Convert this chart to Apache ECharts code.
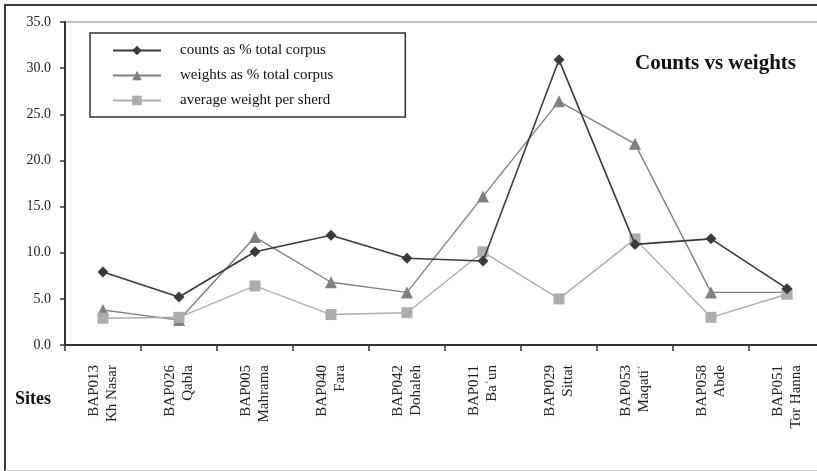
<!DOCTYPE html>
<html>
<head>
<meta charset="utf-8">
<style>
  html, body { margin: 0; padding: 0; background: #fff; overflow: hidden; }
  #frame {
    position: absolute; left: 4px; top: 4px; width: 830px; height: 464px;
    border-left: 2px solid #3a3a3a; border-top: 2px solid #3a3a3a; border-bottom: 1px solid #cfcfcf;
  }
  #chart { position: absolute; left: 0; top: 0; width: 817px; height: 471px; }
</style>
<script src="https://cdn.jsdelivr.net/npm/echarts@6/dist/echarts.min.js"></script>
</head>
<body>
<div id="frame"></div>
<div id="chart"></div>
<script>
// sites along the x axis (code + name)
const sites = [
  'BAP013\nKh Nasar', 'BAP026\nQabla', 'BAP005\nMahrama', 'BAP040\nFara', 'BAP042\nDohaleh',
  'BAP011\nBaʿun', 'BAP029\nSittat', 'BAP053\nMaqatiʿ', 'BAP058\nAbde', 'BAP051\nTor Hanna'
]
const countsPct = [7.9, 5.2, 10.1, 11.9, 9.4, 9.1, 30.9, 10.9, 11.5, 6.1]
const weightsPct = [3.8, 2.7, 11.7, 6.8, 5.7, 16.1, 26.4, 21.8, 5.7, 5.7]
const avgWeight = [2.9, 3.0, 6.4, 3.3, 3.5, 10.1, 5.0, 11.5, 3.0, 5.5]
const seriesNames = ['counts as % total corpus', 'weights as % total corpus', 'average weight per sherd']

const serif = '"Liberation Serif", "DejaVu Serif", serif'

const chart = echarts.init(document.getElementById('chart'))
chart.setOption({
  backgroundColor: 'transparent',
  animation: false,
  title: [
    {
      text: 'Counts vs weights',
      right: 16,
      top: 48,
      textStyle: { fontFamily: serif, fontSize: 21, fontWeight: 'bold', color: '#111' }
    },
    {
      text: 'Sites',
      left: 10,
      top: 385,
      textStyle: { fontFamily: serif, fontSize: 18, fontWeight: 'bold', color: '#111' }
    }
  ],
  legend: {
    orient: 'vertical',
    left: 90,
    top: 33,
    data: seriesNames,
    borderColor: '#333',
    borderWidth: 1.5,
    backgroundColor: '#fff',
    padding: [10, 72, 9, 22],
    itemWidth: 48,
    itemHeight: 12,
    itemGap: 10,
    textStyle: { fontFamily: serif, fontSize: 15, lineHeight: 15, color: '#111', padding: [0, 0, 0, 14] }
  },
  // the plot runs slightly past the right edge of the page, as in the source figure
  grid: { left: 65, top: 22, width: 760, bottom: 126, outerBoundsMode: 'none' },
  xAxis: {
    type: 'category',
    data: sites,
    boundaryGap: true,
    axisLine: { lineStyle: { color: '#333', width: 2 } },
    axisTick: { show: true, length: 6, lineStyle: { color: '#333', width: 1.5 } },
    axisLabel: {
      rotate: 90,
      margin: 20,
      interval: 0,
      fontFamily: serif,
      fontSize: 15,
      lineHeight: 18,
      color: '#222'
    }
  },
  yAxis: {
    type: 'value',
    min: 0,
    max: 35,
    interval: 5,
    axisLine: { show: true, lineStyle: { color: '#333', width: 2 } },
    axisTick: { show: true, length: 5, lineStyle: { color: '#333', width: 1.5 } },
    axisLabel: {
      margin: 14,
      fontFamily: serif,
      fontSize: 14,
      color: '#222',
      formatter: (v) => v.toFixed(1)
    },
    splitLine: {
      show: true,
      lineStyle: {
        color: ['transparent', 'transparent', 'transparent', 'transparent',
          'transparent', 'transparent', 'transparent', '#a8a8a8'],
        width: 1.5
      }
    }
  },
  series: [
    {
      name: seriesNames[0],
      type: 'line',
      data: countsPct,
      symbol: 'diamond',
      symbolSize: 11,
      z: 4,
      itemStyle: { color: '#3a3a3a' },
      lineStyle: { color: '#3a3a3a', width: 1.6 }
    },
    {
      name: seriesNames[1],
      type: 'line',
      data: weightsPct,
      symbol: 'triangle',
      symbolSize: 12,
      z: 3,
      itemStyle: { color: '#808080' },
      lineStyle: { color: '#808080', width: 1.4 }
    },
    {
      name: seriesNames[2],
      type: 'line',
      data: avgWeight,
      symbol: 'rect',
      symbolSize: 11,
      z: 3,
      itemStyle: { color: '#adadad' },
      lineStyle: { color: '#adadad', width: 1.4 }
    }
  ]
})
</script>
</body>
</html>
